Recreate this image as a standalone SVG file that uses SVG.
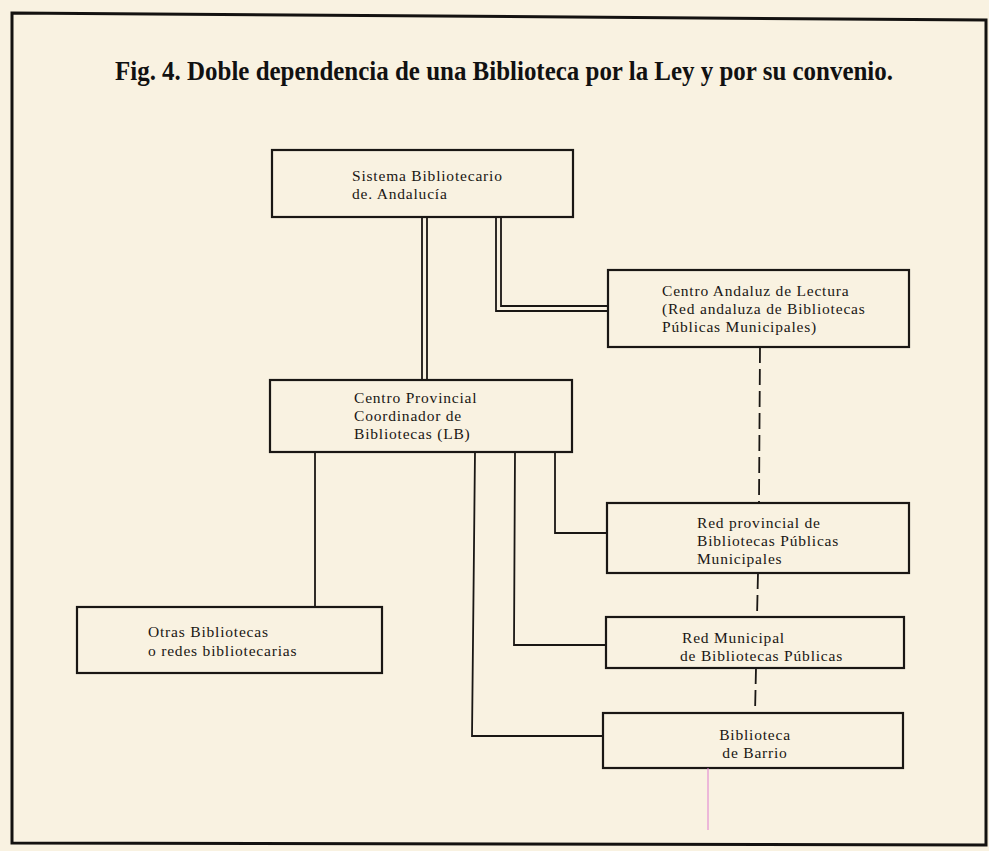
<svg xmlns="http://www.w3.org/2000/svg" width="989" height="851" viewBox="0 0 989 851">
<style>
.box{fill:none;stroke:#1a1714;stroke-width:2.2}
.ln{fill:none;stroke:#1a1714;stroke-width:1.8}
.dash{fill:none;stroke:#1a1714;stroke-width:1.8;stroke-dasharray:16 6}
.t{font-family:"Liberation Serif","Times New Roman",serif;font-size:15.5px;letter-spacing:0.8px;fill:#1a1714}
.title{font-family:"Liberation Serif","Times New Roman",serif;font-weight:bold;font-size:27px;fill:#111}
</style>
<rect x="0" y="0" width="989" height="851" fill="#f9f2e1"/>
<polygon id="frame" points="12,13 986,20 986,845 12,843" fill="none" stroke="#141210" stroke-width="3"/>
<text class="title" x="115" y="80" textLength="778" lengthAdjust="spacingAndGlyphs">Fig. 4. Doble dependencia de una Biblioteca por la Ley y por su convenio.</text>

<g id="connectors">
  <line class="ln" x1="422" y1="217" x2="422" y2="380" stroke-width="1.5"/>
  <line class="ln" x1="427" y1="217" x2="427" y2="380" stroke-width="1.5"/>
  <polyline class="ln" points="496,217 496,311 608,311" stroke-width="1.5"/>
  <polyline class="ln" points="501,217 501,306 608,306" stroke-width="1.5"/>
  <line class="ln" x1="315" y1="452" x2="315" y2="607"/>
  <polyline class="ln" points="475,452 472,736 604,736"/>
  <polyline class="ln" points="515,452 514,645 606,645"/>
  <polyline class="ln" points="555,452 555,533 607,533"/>
  <line class="dash" x1="760" y1="347" x2="759" y2="503"/>
  <line class="dash" x1="758" y1="573" x2="757" y2="617"/>
  <line class="dash" x1="756" y1="668" x2="755" y2="713"/>
</g>

<g id="sistema">
  <rect class="box" x="272" y="150" width="301" height="67"/>
  <text class="t" x="352" y="181">Sistema Bibliotecario</text>
  <text class="t" x="352" y="199">de. Andalucía</text>
</g>
<g id="centro-andaluz">
  <rect class="box" x="608" y="270" width="301" height="77"/>
  <text class="t" x="662" y="296">Centro Andaluz de Lectura</text>
  <text class="t" x="662" y="314">(Red andaluza de Bibliotecas</text>
  <text class="t" x="662" y="332">Públicas Municipales)</text>
</g>
<g id="centro-provincial">
  <rect class="box" x="270" y="380" width="302" height="72"/>
  <text class="t" x="354" y="403">Centro Provincial</text>
  <text class="t" x="354" y="421">Coordinador de</text>
  <text class="t" x="354" y="439">Bibliotecas (LB)</text>
</g>
<g id="red-provincial">
  <rect class="box" x="607" y="503" width="302" height="70"/>
  <text class="t" x="697" y="528">Red provincial de</text>
  <text class="t" x="697" y="546">Bibliotecas Públicas</text>
  <text class="t" x="697" y="564">Municipales</text>
</g>
<g id="red-municipal">
  <rect class="box" x="606" y="617" width="298" height="51"/>
  <text class="t" x="682" y="643">Red Municipal</text>
  <text class="t" x="680" y="661">de Bibliotecas Públicas</text>
</g>
<g id="otras">
  <rect class="box" x="77" y="607" width="305" height="66"/>
  <text class="t" x="148" y="637">Otras Bibliotecas</text>
  <text class="t" x="148" y="656">o redes bibliotecarias</text>
</g>
<g id="barrio">
  <rect class="box" x="603" y="713" width="300" height="55"/>
  <text class="t" x="755" y="740" text-anchor="middle">Biblioteca</text>
  <text class="t" x="755" y="758" text-anchor="middle">de Barrio</text>
</g>
<line x1="708" y1="768" x2="708" y2="830" stroke="#e07fd0" stroke-width="1"/>
</svg>
